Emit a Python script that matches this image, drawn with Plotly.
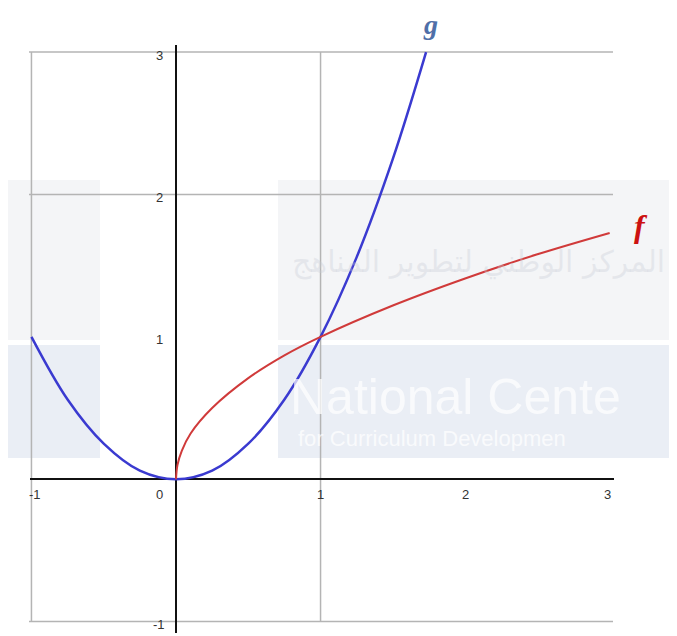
import plotly.graph_objects as go

# points
g_x = [-1.0, -0.75, -0.5, -0.25, 0.0, 0.25, 0.5, 0.75, 1.0, 1.25, 1.5, 1.73]
g_y = [1.0, 0.56, 0.25, 0.06, 0.0, 0.06, 0.25, 0.56, 1.0, 1.56, 2.25, 3.0]

f_x = [0.0, 0.01, 0.04, 0.1, 0.25, 0.5, 0.75, 1.0, 1.5, 2.0, 2.5, 3.0]
f_y = [0.0, 0.1, 0.2, 0.32, 0.5, 0.71, 0.87, 1.0, 1.22, 1.41, 1.58, 1.73]

x_ticks = [-1, 0, 1, 2, 3]
x_tick_text = ['-1', '0', '1', '2', '3']
y_ticks = [3, 2, 1, -1]
y_tick_text = ['3', '2', '1', '-1']

grid_x = [-1, 1]
grid_y = [-1, 2, 3]

W, H = 677, 636
PAGE = 8  # body margin of the html page
# plot area in screen pixels
PL, PT, PW, PH = 30, 45, 584, 588


def px(x):
    return (x - PL) / PW


def py(y):
    return (PT + PH - y) / PH


fig = go.Figure()

fig.add_trace(go.Scatter(
    x=g_x, y=g_y, mode='lines', name='g',
    line=dict(color='#3a3ad0', width=2.5, shape='spline'),
    showlegend=False,
))
fig.add_trace(go.Scatter(
    x=f_x, y=f_y, mode='lines', name='f',
    line=dict(color='#d03a3a', width=2, shape='spline'),
    showlegend=False,
))

shapes = []
# faint watermark blocks behind everything
for x0, x1 in [(0, 100), (278, 677)]:
    shapes.append(dict(type='rect', xref='paper', yref='paper', layer='below',
                       x0=px(x0), x1=px(x1), y0=py(340), y1=py(180),
                       fillcolor='rgba(230,232,238,0.45)', line_width=0))
    shapes.append(dict(type='rect', xref='paper', yref='paper', layer='below',
                       x0=px(x0), x1=px(x1), y0=py(458), y1=py(345),
                       fillcolor='rgba(214,221,236,0.5)', line_width=0))

for gx in grid_x:
    shapes.append(dict(type='line', xref='x', yref='paper', layer='below',
                       x0=gx, x1=gx, y0=py(622), y1=py(52),
                       line=dict(color='#b4b4b4', width=1.5)))
for gy in grid_y:
    shapes.append(dict(type='line', xref='paper', yref='y', layer='below',
                       x0=px(29), x1=px(613), y0=gy, y1=gy,
                       line=dict(color='#b4b4b4', width=1.5)))

annotations = []
# watermark text
annotations.append(dict(x=px(288), y=py(397), xref='paper', yref='paper', xanchor='left', yanchor='middle',
                        text='National Cente', showarrow=False,
                        font=dict(family='Liberation Sans, Arial', size=50, color='rgba(255,255,255,0.7)')))
annotations.append(dict(x=px(296), y=py(438), xref='paper', yref='paper', xanchor='left', yanchor='middle',
                        text='for Curriculum Developmen', showarrow=False,
                        font=dict(family='Liberation Sans, Arial', size=22, color='rgba(255,255,255,0.75)')))
annotations.append(dict(x=px(478), y=py(262), xref='paper', yref='paper', xanchor='center', yanchor='middle',
                        text='المركز الوطني لتطوير المناهج', showarrow=False,
                        font=dict(family='DejaVu Sans', size=30, color='rgba(200,204,214,0.35)')))

tick_font = dict(family='Liberation Sans, Arial', size=13, color='#333')
for v, t in zip(x_ticks, x_tick_text):
    xs = {-1: 4, 0: -17, 3: -2}.get(v, 0)
    annotations.append(dict(x=v, y=0, xref='x', yref='y', text=t, showarrow=False,
                            font=tick_font, xshift=xs, yshift=-15))
for v, t in zip(y_ticks, y_tick_text):
    annotations.append(dict(x=0, y=v, xref='x', yref='y', text=t, showarrow=False,
                            font=tick_font, xshift=-17, yshift=-3))

annotations.append(dict(x=px(430), y=py(25), xref='paper', yref='paper', xanchor='center', yanchor='middle',
                        text='<b><i>g</i></b>', showarrow=False,
                        font=dict(family='Liberation Serif, Times New Roman', size=28, color='#4f6fa8')))
annotations.append(dict(x=px(641), y=py(226), xref='paper', yref='paper', xanchor='center', yanchor='middle',
                        text='<b><i>f</i></b>', showarrow=False,
                        font=dict(family='Liberation Serif, Times New Roman', size=32, color='#cc1111')))

fig.update_layout(
    width=W, height=H,
    margin=dict(l=PL - PAGE, r=W - PL - PW + PAGE, t=PT - PAGE, b=H - PT - PH + PAGE),
    paper_bgcolor='white', plot_bgcolor='rgba(0,0,0,0)',
    xaxis=dict(range=[-1.01, 3.03], showgrid=False, showticklabels=False, ticks='',
               zeroline=True, zerolinecolor='#111', zerolinewidth=2, fixedrange=True),
    yaxis=dict(range=[-1.08, 3.05], showgrid=False, showticklabels=False, ticks='',
               zeroline=True, zerolinecolor='#111', zerolinewidth=2, fixedrange=True),
    shapes=shapes,
    annotations=annotations,
)

fig.write_html("out.html")
